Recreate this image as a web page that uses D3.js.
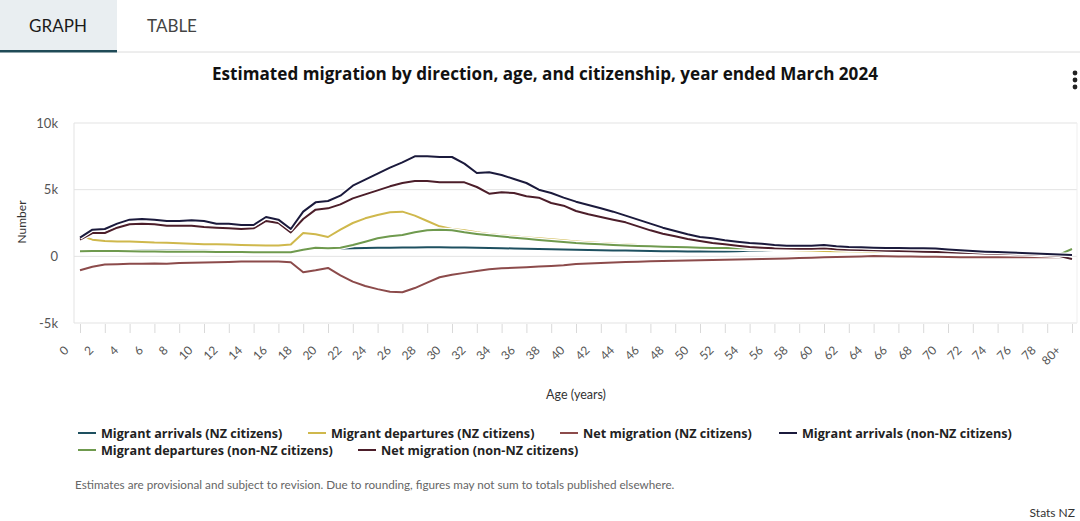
<!DOCTYPE html>
<html><head><meta charset="utf-8">
<script src="https://cdn.jsdelivr.net/npm/d3@7"></script>
<style>
html,body{margin:0;padding:0;background:#fff;}
svg{display:block;font-family:Lato,"Open Sans",sans-serif;}
</style></head>
<body><svg id="c" width="1080" height="521"></svg>
<script>
const ages = ["0","1","2","3","4","5","6","7","8","9","10","11","12","13","14","15","16","17","18","19","20","21","22","23","24","25","26","27","28","29","30","31","32","33","34","35","36","37","38","39","40","41","42","43","44","45","46","47","48","49","50","51","52","53","54","55","56","57","58","59","60","61","62","63","64","65","66","67","68","69","70","71","72","73","74","75","76","77","78","79","80+"];
const xTickLabels = ["0","2","4","6","8","10","12","14","16","18","20","22","24","26","28","30","32","34","36","38","40","42","44","46","48","50","52","54","56","58","60","62","64","66","68","70","72","74","76","78","80+"];
const yTickValues = [-5000, 0, 5000, 10000];
const yTickLabels = ["-5k", "0", "5k", "10k"];

const arrivalsNZ = [430,450,470,470,470,460,450,440,430,420,410,400,390,380,370,360,350,350,550,600,580,580,600,620,640,650,660,670,680,680,670,660,650,630,610,590,570,550,530,510,490,470,450,440,430,420,400,390,380,370,360,360,370,390,410,420,430,440,450,460,470,470,470,470,460,450,440,430,420,400,380,350,320,290,260,230,200,170,140,110,80];
const departuresNZ = [1550,1250,1150,1120,1120,1080,1030,1020,980,950,900,900,880,850,830,820,820,880,1750,1650,1450,2000,2500,2850,3100,3300,3350,3050,2650,2250,2050,1950,1800,1680,1580,1500,1420,1350,1280,1200,1120,1060,1000,950,900,850,800,750,720,680,650,620,600,580,550,530,500,480,450,430,400,390,380,370,350,340,330,320,310,300,290,280,270,260,250,240,230,210,190,160,130];
const netNZ = [-1050,-780,-620,-600,-560,-550,-540,-560,-500,-480,-470,-450,-420,-390,-380,-380,-380,-450,-1200,-1050,-870,-1420,-1900,-2230,-2460,-2650,-2690,-2380,-1970,-1570,-1380,-1240,-1100,-970,-890,-860,-810,-770,-730,-670,-580,-540,-500,-460,-430,-400,-370,-350,-330,-310,-290,-270,-260,-240,-220,-200,-180,-160,-130,-100,-70,-50,-30,-10,20,10,-10,-20,-30,-40,-50,-60,-70,-70,-70,-70,-70,-70,-60,-60,-80];
const arrivalsNonNZ = [1400,2000,2050,2450,2750,2800,2750,2650,2650,2700,2650,2450,2450,2350,2350,2950,2750,2050,3350,4050,4150,4550,5300,5750,6200,6650,7050,7500,7500,7450,7450,6950,6250,6300,6100,5800,5500,5000,4750,4400,4100,3850,3600,3350,3050,2750,2450,2150,1900,1650,1450,1350,1200,1100,1000,950,850,800,800,800,850,750,700,680,650,630,620,600,600,580,520,450,400,350,320,280,250,220,180,130,100];
const departuresNonNZ = [380,400,400,400,380,370,370,350,350,350,340,330,320,320,300,300,300,300,500,650,600,650,850,1100,1350,1500,1600,1800,1950,2000,1950,1800,1680,1580,1480,1400,1320,1230,1150,1080,1000,950,900,850,820,780,750,720,700,680,650,630,620,600,600,580,570,560,560,560,560,560,560,560,570,570,580,580,570,550,520,450,400,350,300,260,220,180,150,150,550];
const netNonNZ = [1250,1750,1750,2150,2400,2450,2400,2300,2300,2300,2200,2150,2100,2050,2100,2650,2500,1800,2800,3500,3600,3900,4350,4650,4950,5250,5500,5650,5650,5550,5550,5550,5200,4700,4800,4750,4500,4400,4000,3800,3400,3150,2950,2750,2550,2250,1950,1700,1500,1300,1150,1000,900,800,700,650,600,580,560,560,600,530,500,480,450,420,400,380,350,330,300,270,250,220,200,170,150,120,80,30,-200];

const seriesNames = ["Migrant arrivals (NZ citizens)","Migrant departures (NZ citizens)","Net migration (NZ citizens)","Migrant arrivals (non-NZ citizens)","Migrant departures (non-NZ citizens)","Net migration (non-NZ citizens)"];
const seriesValues = [arrivalsNZ, departuresNZ, netNZ, arrivalsNonNZ, departuresNonNZ, netNonNZ];
const seriesColors = ["#1e5060","#cfb84c","#8c4b4b","#1b1a3c","#6f9a4e","#4c1e2a"];
const drawOrder = [0, 1, 4, 2, 5, 3];

const svg = d3.select("#c");

// Tabs
svg.append("rect").attr("x",0).attr("y",0).attr("width",117).attr("height",51).attr("fill","#e9eef1");
svg.append("line").attr("x1",117).attr("x2",1080).attr("y1",52).attr("y2",52).attr("stroke","#dcdcdc").attr("stroke-width",1);
svg.append("rect").attr("x",0).attr("y",50).attr("width",117).attr("height",2.5).attr("fill","#1f4a57");
svg.append("text").attr("x",58).attr("y",32).attr("text-anchor","middle").attr("font-size",17).attr("fill","#1a1a1a").text("GRAPH");
svg.append("text").attr("x",172).attr("y",32).attr("text-anchor","middle").attr("font-size",17).attr("fill","#444").text("TABLE");

// Title
svg.append("text").attr("x",545).attr("y",80).attr("text-anchor","middle").attr("font-size",17.1).attr("font-weight","bold")
  .attr("font-family","'Open Sans',sans-serif").attr("fill","#111")
  .text("Estimated migration by direction, age, and citizenship, year ended March 2024");

// kebab
[73,80,87].forEach(cy=>svg.append("circle").attr("cx",1075).attr("cy",cy).attr("r",2.4).attr("fill","#222"));

const plot = {left:74, right:1077, top:123, bottom:323};
const x = d3.scaleLinear().domain([0, ages.length-1]).range([80, 1072]);
const y = d3.scaleLinear().domain([-5000, 10000]).range([plot.bottom, plot.top]);

// gridlines
const g = svg.append("g");
yTickValues.forEach(v=>{
  g.append("line").attr("x1",plot.left).attr("x2",plot.right).attr("y1",y(v)).attr("y2",y(v)).attr("stroke","#e3e3e3").attr("stroke-width",1);
});
g.append("line").attr("x1",plot.left).attr("x2",plot.left).attr("y1",plot.top).attr("y2",plot.bottom).attr("stroke","#e3e3e3");
g.append("line").attr("x1",plot.right).attr("x2",plot.right).attr("y1",plot.top).attr("y2",plot.bottom).attr("stroke","#efefef");

// y axis labels
const yAxis = d3.axisLeft(y).tickValues(yTickValues).tickFormat((d,i)=>yTickLabels[i]).tickSize(0).tickPadding(0);
const ya = svg.append("g").attr("transform","translate(58,0)").call(yAxis);
ya.select(".domain").remove();
ya.selectAll("text").attr("font-size",13).attr("fill","#555").attr("font-family","Lato,sans-serif");

svg.append("text").attr("transform","translate(26,222) rotate(-90)").attr("text-anchor","middle").attr("font-size",12).attr("fill","#333").text("Number");

// x axis
const tickIdx = xTickLabels.map(l=>ages.indexOf(l));
const xAxis = d3.axisBottom(x).tickValues(tickIdx).tickFormat((d,i)=>xTickLabels[i]).tickSize(9).tickPadding(0);
const xa = svg.append("g").attr("transform",`translate(0,${plot.bottom+1})`).call(xAxis);
xa.select(".domain").remove();
xa.selectAll(".tick line").attr("stroke","#d9d9d9");
xa.selectAll("text").attr("font-size",12).attr("fill","#555").attr("font-family","Lato,sans-serif")
  .attr("text-anchor","end").attr("dy",null).attr("y",null)
  .attr("transform","translate(-11,27) rotate(-45)");

svg.append("text").attr("x",576).attr("y",399).attr("text-anchor","middle").attr("font-size",12.5).attr("fill","#333").text("Age (years)");

// lines
const line = d3.line().x((d,i)=>x(i)).y(d=>y(d));
const lg = svg.append("g");
drawOrder.forEach(k=>{
  const vals = seriesValues[k];
  lg.append("path").attr("d",line(vals)).attr("fill","none").attr("stroke","#fff").attr("stroke-width",4.5).attr("stroke-linejoin","round");
  lg.append("path").attr("d",line(vals)).attr("fill","none").attr("stroke",seriesColors[k]).attr("stroke-width",2).attr("stroke-linejoin","round");
});

// legend
const legendPos = [[78,433],[308,433],[560,433],[779,433],[78,450],[358,450]];
seriesNames.forEach((n,k)=>{
  const [lx,ly] = legendPos[k];
  svg.append("line").attr("x1",lx).attr("x2",lx+18).attr("y1",ly).attr("y2",ly).attr("stroke",seriesColors[k]).attr("stroke-width",2);
  svg.append("text").attr("x",lx+23).attr("y",ly+4.5).attr("font-size",12.6).attr("font-weight","bold")
    .attr("font-family","'Open Sans',sans-serif").attr("fill","#222").text(n);
});

svg.append("text").attr("x",75).attr("y",489).attr("font-size",11.7).attr("fill","#666")
  .text("Estimates are provisional and subject to revision. Due to rounding, figures may not sum to totals published elsewhere.");
svg.append("text").attr("x",1075).attr("y",517).attr("text-anchor","end").attr("font-size",12).attr("fill","#333").text("Stats NZ");
</script></body></html>
